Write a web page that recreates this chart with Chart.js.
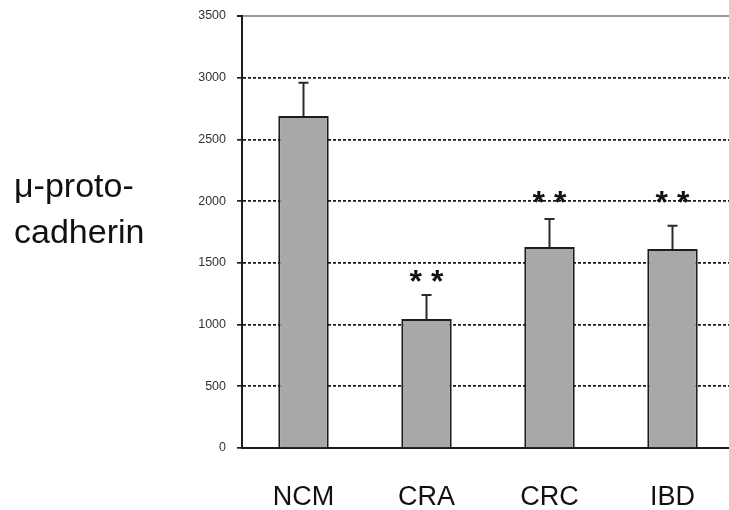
<!DOCTYPE html>
<html>
<head>
<meta charset="utf-8">
<script src="https://cdn.jsdelivr.net/npm/chart.js@4"></script>
<style>
  body { margin: 0; background: #fff; overflow: hidden; }
  canvas { display: block; }
</style>
</head>
<body>
<canvas id="myChart" width="736" height="510"></canvas>
<script>
// data
const groups = ["NCM", "CRA", "CRC", "IBD"];
const meanValues = [2690, 1045, 1628, 1612];
const errorValues = [270, 195, 227, 188];
const starLevels = [null, 1395, 2035, 2035];
const yTicks = [0, 500, 1000, 1500, 2000, 2500, 3000, 3500];

const ctx = document.getElementById("myChart").getContext("2d");

// error bars + significance stars + the horizontal y label
const extras = {
  id: "extras",
  afterDatasetsDraw(chart) {
    const c = chart.ctx;
    const x = chart.scales.x;
    const y = chart.scales.y;
    c.save();
    c.strokeStyle = "#2a2a2a";
    c.lineWidth = 2;
    meanValues.forEach((v, i) => {
      const cx = x.getPixelForValue(i);
      const yTop = y.getPixelForValue(v);
      const yErr = y.getPixelForValue(v + errorValues[i]);
      c.beginPath();
      c.moveTo(cx, yTop);
      c.lineTo(cx, yErr);
      c.moveTo(cx - 5, yErr);
      c.lineTo(cx + 5, yErr);
      c.stroke();
    });
    c.fillStyle = "#111";
    c.font = "bold 32px 'Liberation Sans', Arial, sans-serif";
    c.textAlign = "center";
    c.textBaseline = "middle";
    starLevels.forEach((s, i) => {
      if (s == null) return;
      c.fillText("* *", x.getPixelForValue(i), y.getPixelForValue(s) + 7);
    });
    c.font = "34px 'Liberation Sans', Arial, sans-serif";
    c.textAlign = "left";
    c.textBaseline = "alphabetic";
    c.fillText("\u03bc-proto-", 14, 197);
    c.fillText("cadherin", 14, 243);
    c.restore();
  }
};

new Chart(ctx, {
  type: "bar",
  data: {
    labels: groups,
    datasets: [
      {
        data: meanValues,
        backgroundColor: "#a8a8a8",
        borderColor: "#1c1c1c",
        borderWidth: 2,
        borderSkipped: "bottom",
        barPercentage: 0.41,
        categoryPercentage: 1,
      },
    ],
  },
  options: {
    responsive: false,
    animation: false,
    layout: { padding: { left: 0, right: 2, top: 16, bottom: 0 } },
    plugins: {
      legend: { display: false },
      tooltip: { enabled: false },
    },
    scales: {
      x: {
        grid: { display: false, drawTicks: false },
        border: { display: true, color: "#1c1c1c", width: 2 },
        ticks: {
          color: "#111",
          padding: 33,
          font: { family: "'Liberation Sans', Arial, sans-serif", size: 27 },
        },
        afterFit: (s) => { s.height = 62; },
      },
      y: {
        min: 0,
        max: 3500,
        afterBuildTicks: (s) => { s.ticks = yTicks.map((v) => ({ value: v })); },
        grid: {
          color: (c) => (c.tick && c.tick.value === 3500 ? "#9a9a9a" : "#1a1a1a"),
          lineWidth: (c) => (c.tick && c.tick.value === 3500 ? 2 : 1.7),
          tickLength: 5,
          tickColor: "#222",
        },
        border: {
          display: true,
          color: "#1c1c1c",
          width: 2,
          dash: (c) => (c.tick && c.tick.value === 3500 ? [] : [3, 2]),
        },
        ticks: {
          color: "#333",
          padding: 11,
          font: { family: "'Liberation Sans', Arial, sans-serif", size: 12.5 },
          callback: (v) => String(v),
        },
        afterFit: (s) => { s.width = 242; s.paddingTop = 0; },
      },
    },
  },
  plugins: [extras],
});
</script>
</body>
</html>
